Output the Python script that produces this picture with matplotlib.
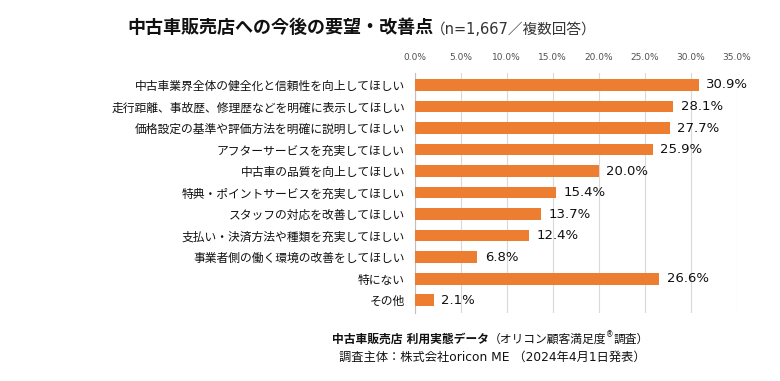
import matplotlib
matplotlib.use("Agg")
import matplotlib.pyplot as plt

plt.rcParams['font.family'] = ['DejaVu Sans', 'Noto Sans CJK JP']

labels = [
    "中古車業界全体の健全化と信頼性を向上してほしい",
    "走行距離、事故歴、修理歴などを明確に表示してほしい",
    "価格設定の基準や評価方法を明確に説明してほしい",
    "アフターサービスを充実してほしい",
    "中古車の品質を向上してほしい",
    "特典・ポイントサービスを充実してほしい",
    "スタッフの対応を改善してほしい",
    "支払い・決済方法や種類を充実してほしい",
    "事業者側の働く環境の改善をしてほしい",
    "特にない",
    "その他",
]
values = [30.9, 28.1, 27.7, 25.9, 20.0, 15.4, 13.7, 12.4, 6.8, 26.6, 2.1]
ticks = [0, 5, 10, 15, 20, 25, 30, 35]

orange = "#ED7D31"

fig = plt.figure(figsize=(7.8, 3.81), dpi=100)
ax = fig.add_axes([0.5317, 0.178, 0.4128, 0.630])

y = list(range(len(values)))
ax.barh(y, values, height=0.54, color=orange, zorder=3)
for yi, v in zip(y, values):
    ax.text(v + 0.8, yi, f"{v:.1f}%", va="center", ha="left", fontsize=9.5,
            color="#111111", zorder=4)

ax.set_xlim(0, 35)
ax.set_ylim(10.6, -0.55)
ax.set_xticks(ticks)
ax.set_xticklabels([f"{t:.1f}%" for t in ticks], fontsize=6.5, color="#505050")
ax.xaxis.tick_top()
ax.tick_params(axis="x", length=0, pad=8)
ax.set_yticks(y)
ax.set_yticklabels(labels, fontsize=8.5, color="#111111")
ax.tick_params(axis="y", length=0, pad=7)
ax.grid(axis="x", color="#d9d9d9", linewidth=0.8, zorder=0)
for s in ["top", "right", "bottom"]:
    ax.spines[s].set_visible(False)
ax.spines["left"].set_color("#bfbfbf")
ax.spines["left"].set_linewidth(0.8)

# title
fig.canvas.draw()
r = fig.canvas.get_renderer()
t1 = fig.text(127 / 780, 1 - 28 / 381, "中古車販売店への今後の要望・改善点", fontsize=13,
              fontweight="bold", va="center", ha="left", color="#111111")
bb = t1.get_window_extent(r)
fig.text(bb.x1 / 780 - 0.003, 1 - 29 / 381, "（n=1,667／複数回答）", fontsize=10.5,
         va="center", ha="left", color="#333333")

# footer
f1 = fig.text(332 / 780, 1 - 339 / 381, "中古車販売店 利用実態データ", fontsize=8.5,
              fontweight="bold", va="center", ha="left", color="#111111")
bb = f1.get_window_extent(r)
f2 = fig.text(bb.x1 / 780, 1 - 339 / 381, "（オリコン顧客満足度", fontsize=8.5,
              va="center", ha="left", color="#111111")
bb = f2.get_window_extent(r)
f3 = fig.text(bb.x1 / 780, 1 - 335 / 381, "®", fontsize=5.5,
              va="center", ha="left", color="#111111")
bb = f3.get_window_extent(r)
fig.text(bb.x1 / 780, 1 - 339 / 381, "調査）", fontsize=8.5,
         va="center", ha="left", color="#111111")
fig.text(339 / 780, 1 - 357 / 381, "調査主体：株式会社oricon ME （2024年4月1日発表）", fontsize=8.8,
         va="center", ha="left", color="#111111")

fig.savefig("out.png", dpi=100)
